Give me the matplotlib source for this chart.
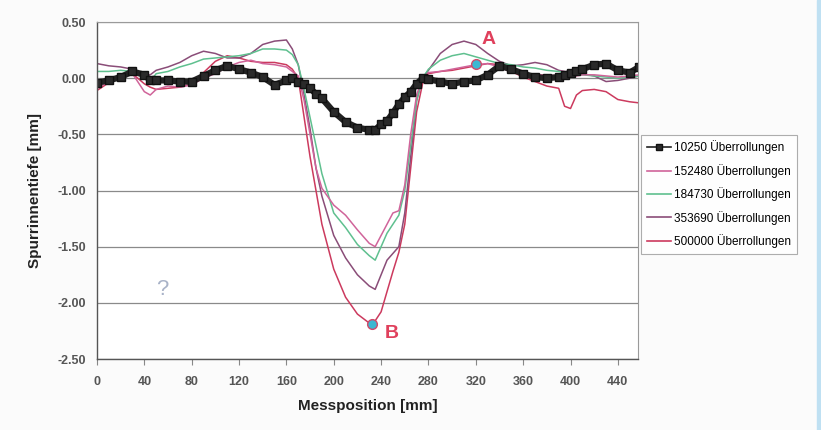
import matplotlib.pyplot as plt
from matplotlib.patches import Rectangle

# Messposition [mm]
pos = [0, 10, 20, 30, 40, 45, 50, 60, 70, 80, 90, 100, 110, 120, 130, 140, 150, 160, 165, 170,
       175, 180, 185, 190, 200, 210, 220, 230, 235, 240, 245, 250, 255, 260, 265, 270, 275, 280,
       290, 300, 310, 320, 330, 340, 350, 360, 370, 380, 390, 395, 400, 405, 410, 420, 430, 440,
       450, 458]

d_10250 = [-0.04, -0.02, 0.01, 0.06, 0.03, -0.02, -0.02, -0.02, -0.03, -0.03, 0.02, 0.07, 0.11,
           0.08, 0.05, 0.01, -0.06, -0.02, 0.0, -0.03, -0.05, -0.09, -0.14, -0.18, -0.30, -0.39,
           -0.44, -0.46, -0.46, -0.41, -0.38, -0.31, -0.23, -0.17, -0.12, -0.05, 0.0, -0.01, -0.03,
           -0.05, -0.03, -0.02, 0.03, 0.11, 0.08, 0.04, 0.01, 0.0, 0.01, 0.03, 0.05, 0.06, 0.08,
           0.12, 0.13, 0.07, 0.05, 0.10]
d_152480 = [-0.09, -0.03, 0.02, 0.04, -0.12, -0.15, -0.10, -0.07, -0.08, -0.06, 0.0, 0.04, 0.10,
            0.14, 0.16, 0.13, 0.12, 0.10, 0.06, 0.02, -0.20, -0.50, -0.80, -0.98, -1.13, -1.22,
            -1.35, -1.47, -1.50, -1.40, -1.30, -1.20, -1.18, -0.95, -0.50, -0.15, 0.0, 0.05, 0.06,
            0.08, 0.10, 0.12, 0.13, 0.10, 0.05, 0.04, 0.03, 0.03, 0.02, 0.02, 0.02, 0.02, 0.03,
            0.03, 0.02, 0.01, 0.02, 0.03]
d_184730 = [0.06, 0.06, 0.07, 0.06, 0.02, -0.03, 0.04, 0.06, 0.10, 0.13, 0.17, 0.18, 0.19, 0.20,
            0.22, 0.26, 0.26, 0.25, 0.21, 0.12, -0.10, -0.35, -0.60, -0.85, -1.20, -1.33, -1.48,
            -1.58, -1.62, -1.50, -1.38, -1.30, -1.22, -1.00, -0.60, -0.20, 0.0, 0.08, 0.16, 0.20,
            0.22, 0.19, 0.16, 0.13, 0.12, 0.10, 0.09, 0.07, 0.06, 0.05, 0.04, 0.04, 0.03, 0.02,
            0.01, 0.0, 0.01, 0.02]
d_353690 = [0.13, 0.11, 0.10, 0.08, 0.04, 0.03, 0.07, 0.10, 0.14, 0.20, 0.24, 0.22, 0.18, 0.18,
            0.22, 0.30, 0.33, 0.34, 0.26, 0.12, -0.15, -0.45, -0.80, -1.05, -1.40, -1.60, -1.75,
            -1.85, -1.88, -1.75, -1.62, -1.56, -1.50, -1.20, -0.70, -0.20, 0.0, 0.07, 0.22, 0.30,
            0.33, 0.30, 0.22, 0.15, 0.11, 0.12, 0.14, 0.12, 0.07, 0.06, 0.05, 0.05, 0.04, 0.02,
            -0.03, -0.02, 0.0, 0.02]
d_500000 = [-0.11, -0.04, 0.01, 0.04, -0.05, -0.08, -0.10, -0.09, -0.08, -0.05, 0.05, 0.15, 0.20,
            0.18, 0.15, 0.14, 0.14, 0.12, 0.08, 0.0, -0.35, -0.70, -1.00, -1.30, -1.70, -1.95,
            -2.10, -2.18, -2.16, -2.08, -1.90, -1.72, -1.55, -1.30, -0.80, -0.30, -0.05, 0.04,
            0.06, 0.07, 0.09, 0.11, 0.13, 0.12, 0.06, 0.01, -0.03, -0.07, -0.09, -0.25, -0.27,
            -0.15, -0.11, -0.10, -0.12, -0.19, -0.21, -0.22]

labels = ['10250 Überrollungen', '152480 Überrollungen', '184730 Überrollungen',
          '353690 Überrollungen', '500000 Überrollungen']
colors = ['#1a1a1a', '#d0649a', '#5fc08f', '#8a4d78', '#cc3a5e']

point_a = (320, 0.13)
point_b = (232, -2.19)

fig = plt.figure(figsize=(8.21, 4.30), dpi=100)
fig.patch.set_facecolor('#fbfbfb')
fig.patches.append(Rectangle((0.9955, 0), 0.0045, 1, transform=fig.transFigure,
                             color='#bfe0f2', zorder=0))

ax = fig.add_axes([0.1181, 0.1651, 0.659, 0.7837])
ax.set_facecolor('white')

series = [d_10250, d_152480, d_184730, d_353690, d_500000]
for i in [4, 3, 2, 1]:
    ax.plot(pos, series[i], color=colors[i], lw=1.1, label=labels[i])
ax.plot(pos, d_10250, color='#222222', lw=4.5, marker='s', ms=6, mfc='#2a2a2a',
        mec='#111111', mew=1.0, label=labels[0])

ax.plot(*point_a, 'o', ms=7, mfc='#3cb8d2', mec='#d04a6a', mew=1.0, zorder=5)
ax.plot(*point_b, 'o', ms=7, mfc='#3cb8d2', mec='#d04a6a', mew=1.0, zorder=5)
ax.text(325, 0.30, 'A', color='#e0405c', fontsize=14, fontweight='bold',
        family='Liberation Sans')
ax.text(243, -2.31, 'B', color='#e0405c', fontsize=14, fontweight='bold',
        family='Liberation Sans')

ax.set_xlim(0, 457)
ax.set_ylim(-2.5, 0.5)
ax.set_xticks(range(0, 441, 40))
ax.set_yticks([0.5, 0.0, -0.5, -1.0, -1.5, -2.0, -2.5])
ax.set_yticklabels(['%.2f' % v for v in [0.5, 0.0, -0.5, -1.0, -1.5, -2.0, -2.5]])
ax.yaxis.grid(True, color='#8a8a8a', lw=0.9)
ax.set_axisbelow(True)

for lbl in ax.get_xticklabels() + ax.get_yticklabels():
    lbl.set_family('Liberation Sans')
    lbl.set_fontweight('bold')
    lbl.set_fontsize(9)
    lbl.set_color('#555555')
ax.tick_params(axis='x', length=4, color='#888888', pad=8)
ax.tick_params(axis='y', length=0, pad=8)

for side in ['top', 'right']:
    ax.spines[side].set_color('#9a9a9a')
    ax.spines[side].set_linewidth(0.8)
for side in ['left', 'bottom']:
    ax.spines[side].set_color('#555555')
    ax.spines[side].set_linewidth(1.0)

ax.set_xlabel('Messposition [mm]', family='Liberation Sans', fontweight='bold',
              fontsize=11, color='#222222', labelpad=8)
ax.set_ylabel('Spurrinnentiefe [mm]', family='Liberation Sans', fontweight='bold',
              fontsize=11, color='#222222', labelpad=11)

handles, labs = ax.get_legend_handles_labels()
order = [labs.index(l) for l in labels]
leg = fig.legend([handles[k] for k in order], [labs[k] for k in order],
                 loc='upper left', bbox_to_anchor=(0.781, 0.687),
                 prop={'family': ['Liberation Sans Narrow', 'Liberation Sans'], 'size': 8.5},
                 frameon=True, fancybox=False, edgecolor='#999999', handlelength=2.0,
                 handletextpad=0.3, borderpad=0.5, labelspacing=0.8, borderaxespad=0)
leg.get_frame().set_linewidth(0.8)
for h in leg.legend_handles:
    h.set_linewidth(1.2)
    h.set_markersize(4)

fig.text(0.19, 0.315, '?', color='#a9b3c8', fontsize=16, family='Liberation Sans')

fig.savefig('out.png', dpi=100, facecolor=fig.get_facecolor())
